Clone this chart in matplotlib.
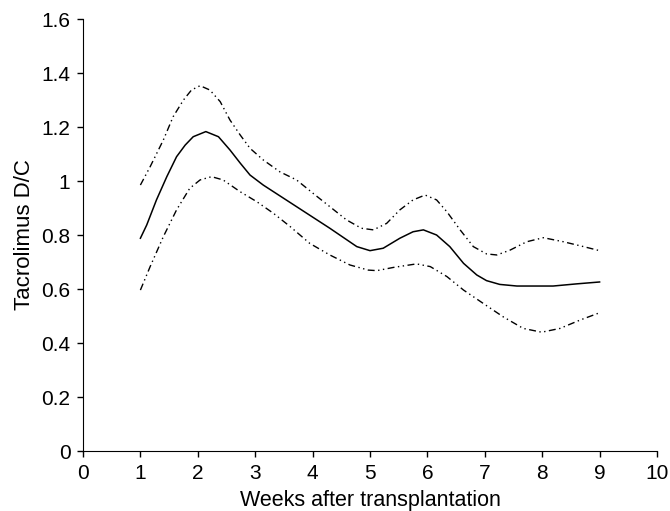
import matplotlib
matplotlib.use("Agg")
import matplotlib.pyplot as plt

# === Data ===
weeks_mid = [1.0, 1.11, 1.28, 1.46, 1.63, 1.78, 1.92, 2.14, 2.36, 2.56, 2.74, 2.91, 3.14,
             3.72, 4.30, 4.77, 5.0, 5.23, 5.52, 5.75, 5.93, 6.16, 6.39, 6.63, 6.86,
             7.03, 7.26, 7.56, 8.19, 8.60, 9.0]
dc_mid = [0.788, 0.837, 0.930, 1.016, 1.09, 1.133, 1.164, 1.183, 1.164, 1.115, 1.066,
          1.022, 0.985, 0.905, 0.825, 0.757, 0.742, 0.751, 0.788, 0.812, 0.819, 0.80,
          0.757, 0.695, 0.652, 0.631, 0.617, 0.611, 0.611, 0.619, 0.626]

weeks_up = [1.0, 1.17, 1.40, 1.57, 1.75, 1.89, 2.04, 2.21, 2.39, 2.56, 2.74, 2.91, 3.14,
            3.43, 3.72, 4.01, 4.30, 4.59, 4.85, 5.06, 5.29, 5.52, 5.75, 5.96, 6.16,
            6.34, 6.57, 6.80, 7.03, 7.21, 7.44, 7.73, 8.02, 8.37, 8.72, 9.0]
dc_up = [0.985, 1.053, 1.152, 1.238, 1.30, 1.337, 1.353, 1.337, 1.294, 1.226, 1.17,
         1.121, 1.078, 1.034, 1.004, 0.954, 0.905, 0.856, 0.825, 0.819, 0.843, 0.893,
         0.930, 0.948, 0.930, 0.886, 0.819, 0.757, 0.730, 0.726, 0.744, 0.775, 0.790,
         0.775, 0.757, 0.742]

weeks_lo = [1.0, 1.17, 1.40, 1.63, 1.86, 2.04, 2.24, 2.44, 2.74, 3.03, 3.32, 3.61, 3.95,
            4.30, 4.65, 4.97, 5.12, 5.41, 5.81, 6.05, 6.34, 6.63, 6.97, 7.32, 7.67,
            7.99, 8.31, 8.66, 9.0]
dc_lo = [0.596, 0.683, 0.794, 0.893, 0.973, 1.004, 1.016, 1.004, 0.960, 0.923, 0.880,
         0.831, 0.769, 0.726, 0.689, 0.670, 0.668, 0.680, 0.693, 0.683, 0.646, 0.596,
         0.547, 0.497, 0.454, 0.440, 0.454, 0.485, 0.512]

plt.rcParams['font.family'] = ['Liberation Sans', 'DejaVu Sans']

fig = plt.figure(figsize=(6.7, 5.11), dpi=100)
ax = fig.add_axes([83 / 670, 60 / 511, (657 - 83) / 670, (451 - 19) / 511])

dashdotdot = (0, (5, 2.5, 1, 2.5, 1, 2.5))
ax.plot(weeks_mid, dc_mid, color="black", lw=1.1)
ax.plot(weeks_up, dc_up, color="black", lw=1.0, linestyle=dashdotdot)
ax.plot(weeks_lo, dc_lo, color="black", lw=1.0, linestyle=dashdotdot)

ax.set_xlim(0, 10)
ax.set_ylim(0, 1.6)
ax.set_xticks(range(0, 11))
ax.set_yticks([0, 0.2, 0.4, 0.6, 0.8, 1.0, 1.2, 1.4, 1.6])
ax.set_yticklabels(["0", "0.2", "0.4", "0.6", "0.8", "1", "1.2", "1.4", "1.6"])
ax.spines["top"].set_visible(False)
ax.spines["right"].set_visible(False)
ax.tick_params(direction="out", length=4, width=1, labelsize=15)
ax.tick_params(axis="x", pad=5)
ax.tick_params(axis="y", pad=5)
ax.set_xlabel("Weeks after transplantation", fontsize=15.5, labelpad=5.5)
ax.set_ylabel("Tacrolimus D/C", fontsize=16, labelpad=4.5)

fig.savefig("out.png", dpi=100)
